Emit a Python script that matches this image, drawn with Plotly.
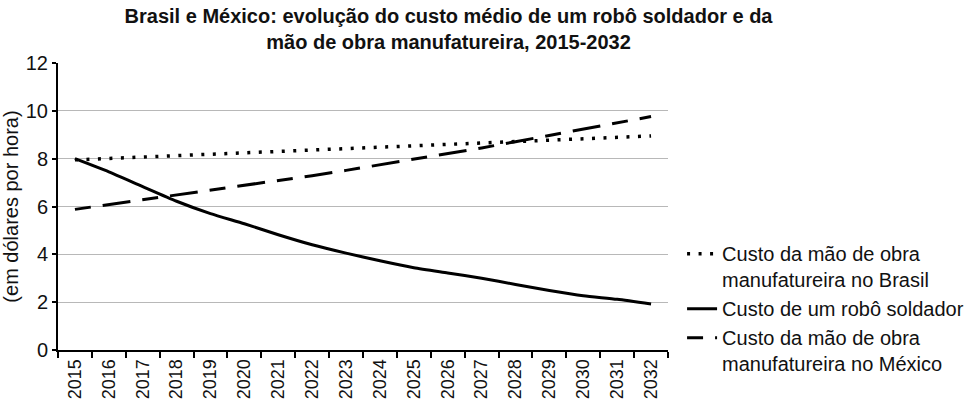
import plotly.graph_objects as go

years = [str(y) for y in range(2015, 2033)]

brasil_mao_obra = [7.95, 8.01, 8.07, 8.13, 8.18, 8.24, 8.29, 8.35, 8.41, 8.46,
                   8.52, 8.58, 8.64, 8.70, 8.76, 8.82, 8.88, 8.95]
robo_soldador = [8.0, 7.45, 6.83, 6.22, 5.70, 5.28, 4.82, 4.40, 4.05, 3.73,
                 3.44, 3.22, 3.0, 2.74, 2.49, 2.27, 2.12, 1.92]
mexico_mao_obra = [5.88, 6.08, 6.27, 6.47, 6.67, 6.86, 7.06, 7.29, 7.51, 7.74,
                   7.96, 8.19, 8.45, 8.71, 8.98, 9.24, 9.51, 9.76]

names = ["Custo da mão de obra<br>manufatureira no Brasil",
         "Custo de um robô soldador",
         "Custo da mão de obra<br>manufatureira no México"]

title_text = ("<b>Brasil e México: evolução do custo médio de um robô soldador e da<br>"
              "mão de obra manufatureira, 2015-2032</b>")

FONT = "Liberation Sans, Arial, sans-serif"

fig = go.Figure()
fig.add_trace(go.Scatter(x=years, y=brasil_mao_obra, mode="lines", name=names[0],
                         line=dict(color="black", width=3.5, dash="3px,8.5px")))
fig.add_trace(go.Scatter(x=years, y=robo_soldador, mode="lines", name=names[1],
                         line=dict(color="black", width=3, shape="spline", smoothing=0.6)))
fig.add_trace(go.Scatter(x=years, y=mexico_mao_obra, mode="lines", name=names[2],
                         line=dict(color="black", width=3, dash="16px,12px,28px,12px")))

fig.update_layout(
    width=973, height=401,
    margin=dict(l=58, r=305, t=63, b=51),
    paper_bgcolor="white", plot_bgcolor="white",
    font=dict(family=FONT, color="#111111"),
    title=dict(text=title_text, x=0.461, xanchor="center", xref="container",
               y=0.942, yanchor="top", yref="container",
               font=dict(size=20, color="#111111")),
    showlegend=True,
    legend=dict(x=0.701, xanchor="left", xref="container",
                y=0.416, yanchor="top", yref="container",
                font=dict(size=20, color="#111111"), valign="top",
                bgcolor="rgba(0,0,0,0)", tracegroupgap=0, itemwidth=30),
    xaxis=dict(type="category", range=[-0.5, 17.5], automargin=False,
               showgrid=False, showline=True, linecolor="black",
               linewidth=2, ticks="outside", tickson="boundaries", ticklen=6,
               tickwidth=2, tickcolor="black", tickangle=-90,
               tickfont=dict(size=18, color="#111111"), zeroline=False),
    yaxis=dict(range=[0, 12], dtick=2, automargin=False,
               showgrid=True, gridcolor="#b8b8b8", gridwidth=1,
               showline=True, linecolor="black", linewidth=2, ticks="outside",
               ticklen=4, tickwidth=2, tickcolor="black", zeroline=False,
               tickfont=dict(size=20, color="#111111"),
               title=dict(text="(em dólares por hora)", standoff=4,
                          font=dict(size=20, color="#111111"))),
)

fig.write_html("out.html", post_script="document.body.style.margin='0';",
               config={"displayModeBar": False})
